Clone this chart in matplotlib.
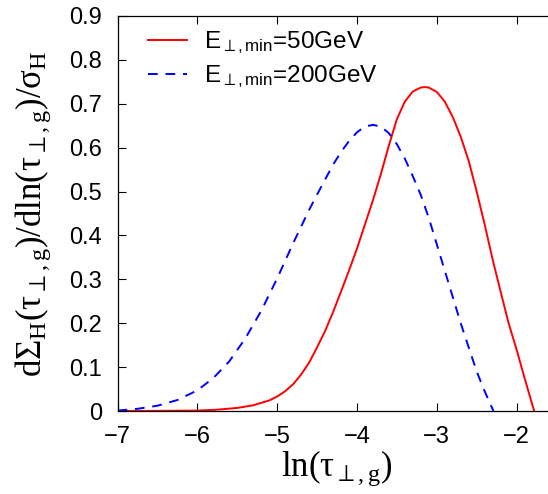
import matplotlib
matplotlib.use("Agg")
import matplotlib.pyplot as plt

plt.rcParams['font.family'] = ['Liberation Sans', 'DejaVu Sans']
plt.rcParams['mathtext.fontset'] = 'custom'
plt.rcParams['mathtext.rm'] = 'Liberation Serif'
plt.rcParams['mathtext.it'] = 'Liberation Serif'
plt.rcParams['mathtext.bf'] = 'Liberation Serif:bold'
plt.rcParams['mathtext.sf'] = 'Liberation Sans'

x_50 = [-7.0, -6.5, -6.0, -5.75, -5.5, -5.3, -5.1, -5.0, -4.9, -4.8, -4.7, -4.6,
        -4.5, -4.4, -4.3, -4.2, -4.1, -4.0, -3.9, -3.8, -3.7, -3.6, -3.5, -3.4,
        -3.3, -3.2, -3.15, -3.1, -3.0, -2.9, -2.8, -2.7, -2.6, -2.5, -2.4, -2.3,
        -2.2, -2.1, -2.0, -1.9, -1.78]
y_50 = [0.0, 0.0003, 0.001, 0.003, 0.007, 0.013, 0.024, 0.033, 0.045, 0.061, 0.083, 0.11,
        0.145, 0.182, 0.225, 0.272, 0.32, 0.37, 0.425, 0.48, 0.54, 0.605, 0.665, 0.705,
        0.728, 0.737, 0.738, 0.737, 0.727, 0.705, 0.67, 0.625, 0.57, 0.5, 0.425, 0.345,
        0.272, 0.2, 0.14, 0.075, 0.0]

x_200 = [-7.0, -6.75, -6.5, -6.25, -6.0, -5.8, -5.6, -5.4, -5.2, -5.0, -4.9, -4.8,
         -4.7, -4.6, -4.5, -4.4, -4.3, -4.2, -4.1, -4.0, -3.9, -3.8, -3.7, -3.6,
         -3.5, -3.4, -3.3, -3.2, -3.1, -3.0, -2.9, -2.8, -2.7, -2.6, -2.5, -2.4, -2.29]
y_200 = [0.001, 0.005, 0.012, 0.025, 0.047, 0.075, 0.113, 0.165, 0.228, 0.302, 0.342, 0.382,
         0.42, 0.458, 0.493, 0.527, 0.561, 0.59, 0.615, 0.635, 0.648, 0.652, 0.648, 0.633,
         0.608, 0.575, 0.535, 0.492, 0.44, 0.38, 0.32, 0.26, 0.2, 0.145, 0.09, 0.045, 0.0]

labels = [r'E$_{\mathsf{\perp,min}}$=50GeV', r'E$_{\mathsf{\perp,min}}$=200GeV']
xticks = [-7, -6, -5, -4, -3, -2]
yticks = [0, 0.1, 0.2, 0.3, 0.4, 0.5, 0.6, 0.7, 0.8, 0.9]
ytick_labels = ['0', '0.1', '0.2', '0.3', '0.4', '0.5', '0.6', '0.7', '0.8', '0.9']

fig = plt.figure(figsize=(5.48, 4.94), dpi=100)
W, H = 548, 494
ax = fig.add_axes([117.5 / W, (494 - 411) / H, 439 / W, 395 / H])

ax.plot(x_50, y_50, color='#ff0000', lw=1.4, label=labels[0])
ax.plot(x_200, y_200, color='#0000ff', lw=1.4, ls=(0, (5, 4)), label=labels[1])

ax.set_xlim(-7, -1.5)
ax.set_ylim(0, 0.9)
ax.set_xticks(xticks)
ax.set_yticks(yticks)
ax.set_yticklabels(ytick_labels)
ax.tick_params(direction='in', length=6, width=0.8, top=True, right=True,
               labelsize=17, pad=11)
for s in ax.spines.values():
    s.set_linewidth(0.9)

ax.set_xlabel(r'$\mathrm{ln}(\tau_{\perp,\mathrm{g}})$', fontsize=25, labelpad=0)
ax.set_ylabel(r'$\mathrm{d}\Sigma_{\mathrm{H}}(\tau_{\perp,\mathrm{g}})/\mathrm{dln}(\tau_{\perp,\mathrm{g}})/\sigma_{\mathrm{H}}$',
              fontsize=25, labelpad=12)

ax.legend(loc='upper left', frameon=False, fontsize=17.5, handlelength=1.6,
          handletextpad=0.7, labelspacing=0.35, borderaxespad=0.15,
          bbox_to_anchor=(0.04, 1.0))

fig.savefig('out.png', dpi=100)
